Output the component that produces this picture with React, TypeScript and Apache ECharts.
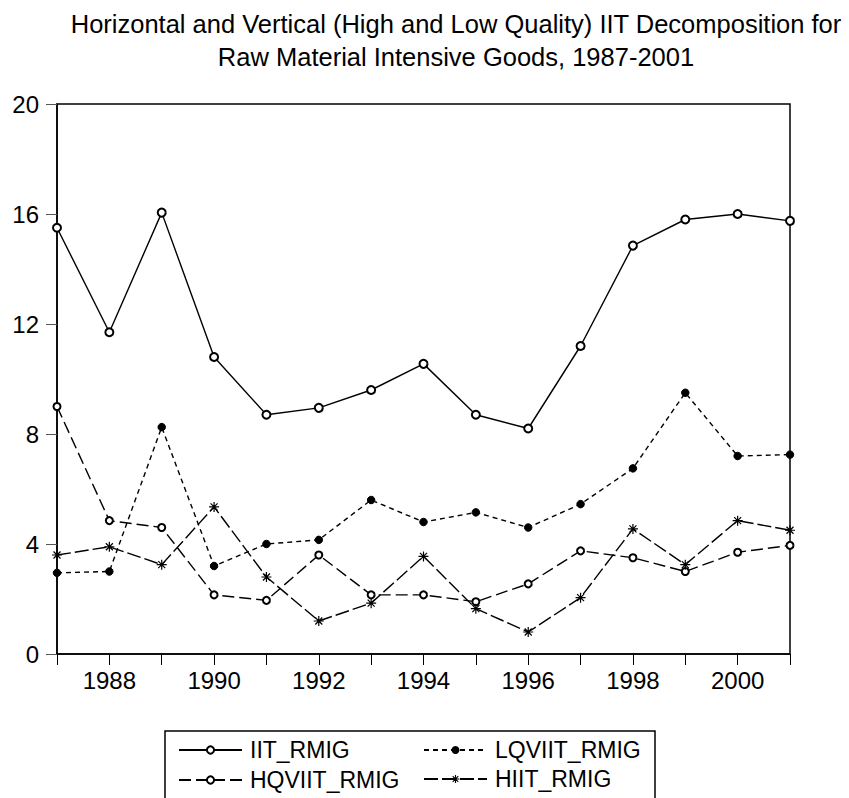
import React, { useEffect, useRef } from "react";
import * as echarts from "echarts";

const years = ["1987","1988","1989","1990","1991","1992","1993","1994","1995","1996","1997","1998","1999","2000","2001"];
const iitRmig = [15.5, 11.7, 16.05, 10.8, 8.7, 8.95, 9.6, 10.55, 8.7, 8.2, 11.2, 14.85, 15.8, 16.0, 15.75];
const lqviitRmig = [2.95, 3.0, 8.25, 3.2, 4.0, 4.15, 5.6, 4.8, 5.15, 4.6, 5.45, 6.75, 9.5, 7.2, 7.25];
const hqviitRmig = [9.0, 4.85, 4.6, 2.15, 1.95, 3.6, 2.15, 2.15, 1.9, 2.55, 3.75, 3.5, 3.0, 3.7, 3.95];
const hiitRmig = [3.6, 3.9, 3.25, 5.35, 2.8, 1.2, 1.85, 3.55, 1.65, 0.8, 2.05, 4.55, 3.25, 4.85, 4.5];
const yTicks = [0, 4, 8, 12, 16, 20];

const FONT = "'Liberation Sans', Arial, sans-serif";
const ASTERISK = "path://M0,-5L0,5M-5,0L5,0M-3.5,-3.5L3.5,3.5M-3.5,3.5L3.5,-3.5";

export default function App() {
  const ref = useRef<HTMLDivElement>(null);
  useEffect(() => {
    if (!ref.current) return;
    const chart = echarts.init(ref.current, undefined, { renderer: "svg" });
    const mk = (name: string, data: number[], dash: any, symbol: string, size: number, item: any) => ({
      name,
      type: "line",
      data,
      symbol,
      symbolSize: size,
      showSymbol: true,
      lineStyle: { color: "#000", width: 1.4, type: dash },
      itemStyle: item,
      z: 3,
    });
    const legendText = { fontSize: 23, lineHeight: 26, color: "#000", fontFamily: FONT, padding: [0, 0, 0, 3] };
    chart.setOption({
      animation: false,
      backgroundColor: "#fff",
      textStyle: { fontFamily: FONT },
      grid: { left: 57, right: 59, top: 104, bottom: 144, show: true, borderColor: "#000", borderWidth: 1.5, containLabel: false },
      graphic: [
        {
          type: "text",
          x: 456,
          y: 8,
          style: {
            text: "Horizontal and Vertical (High and Low Quality) IIT Decomposition for\nRaw Material Intensive Goods, 1987-2001",
            fontFamily: FONT,
            fontSize: 25.5,
            lineHeight: 32.5,
            fill: "#000",
            textAlign: "center",
          },
        },
        {
          type: "rect",
          shape: { x: 165, y: 731, width: 490, height: 80 },
          style: { fill: "none", stroke: "#000", lineWidth: 1.5 },
        },
      ],
      legend: [
        {
          data: ["IIT_RMIG", "HQVIIT_RMIG"],
          orient: "vertical",
          left: 173,
          top: 732,
          height: 120,
          itemWidth: 63,
          itemHeight: 9,
          itemGap: 4,
          textStyle: legendText,
        },
        {
          data: [
            "LQVIIT_RMIG",
            { name: "HIIT_RMIG", itemStyle: { color: "rgba(0,0,0,0)", borderColor: "#000", borderWidth: 1.1 } },
          ],
          orient: "vertical",
          left: 418,
          top: 732,
          height: 120,
          itemWidth: 63,
          itemHeight: 10,
          itemGap: 3,
          textStyle: legendText,
        },
      ],
      xAxis: {
        type: "category",
        data: years,
        boundaryGap: false,
        axisLine: { show: true, lineStyle: { color: "#000", width: 1.5 } },
        axisTick: { show: true, inside: false, length: 11, alignWithLabel: true, interval: 0, lineStyle: { color: "#000", width: 1 } },
        axisLabel: {
          interval: (i: number) => i % 2 === 1,
          fontSize: 24,
          color: "#000",
          fontFamily: FONT,
          margin: 14,
        },
        splitLine: { show: false },
      },
      yAxis: {
        type: "value",
        min: 0,
        max: 20,
        interval: 4,
        axisLine: { show: true, lineStyle: { color: "#000", width: 1.5 } },
        axisTick: { show: true, inside: false, length: 11, lineStyle: { color: "#555", width: 1 } },
        axisLabel: {
          fontSize: 24,
          color: "#000",
          fontFamily: FONT,
          margin: 18,
          formatter: (v: number) => (yTicks.includes(v) ? String(v) : ""),
        },
        splitLine: { show: false },
      },
      series: [
        mk("IIT_RMIG", iitRmig, "solid", "emptyCircle", 8, { color: "#000", borderColor: "#000", borderWidth: 1.2 }),
        mk("LQVIIT_RMIG", lqviitRmig, [5, 4], "circle", 7.5, { color: "#000", borderColor: "#000" }),
        mk("HQVIIT_RMIG", hqviitRmig, [12, 5], "emptyCircle", 7, { color: "#000", borderColor: "#000", borderWidth: 1.2 }),
        mk("HIIT_RMIG", hiitRmig, [14, 4], ASTERISK, 10, { color: "rgba(0,0,0,0)", borderColor: "#000", borderWidth: 1.2 }),
      ],
    });
    return () => chart.dispose();
  }, []);
  return <div ref={ref} style={{ position: "fixed", left: 0, top: 0, width: 849, height: 798, background: "#fff" }} />;
}
